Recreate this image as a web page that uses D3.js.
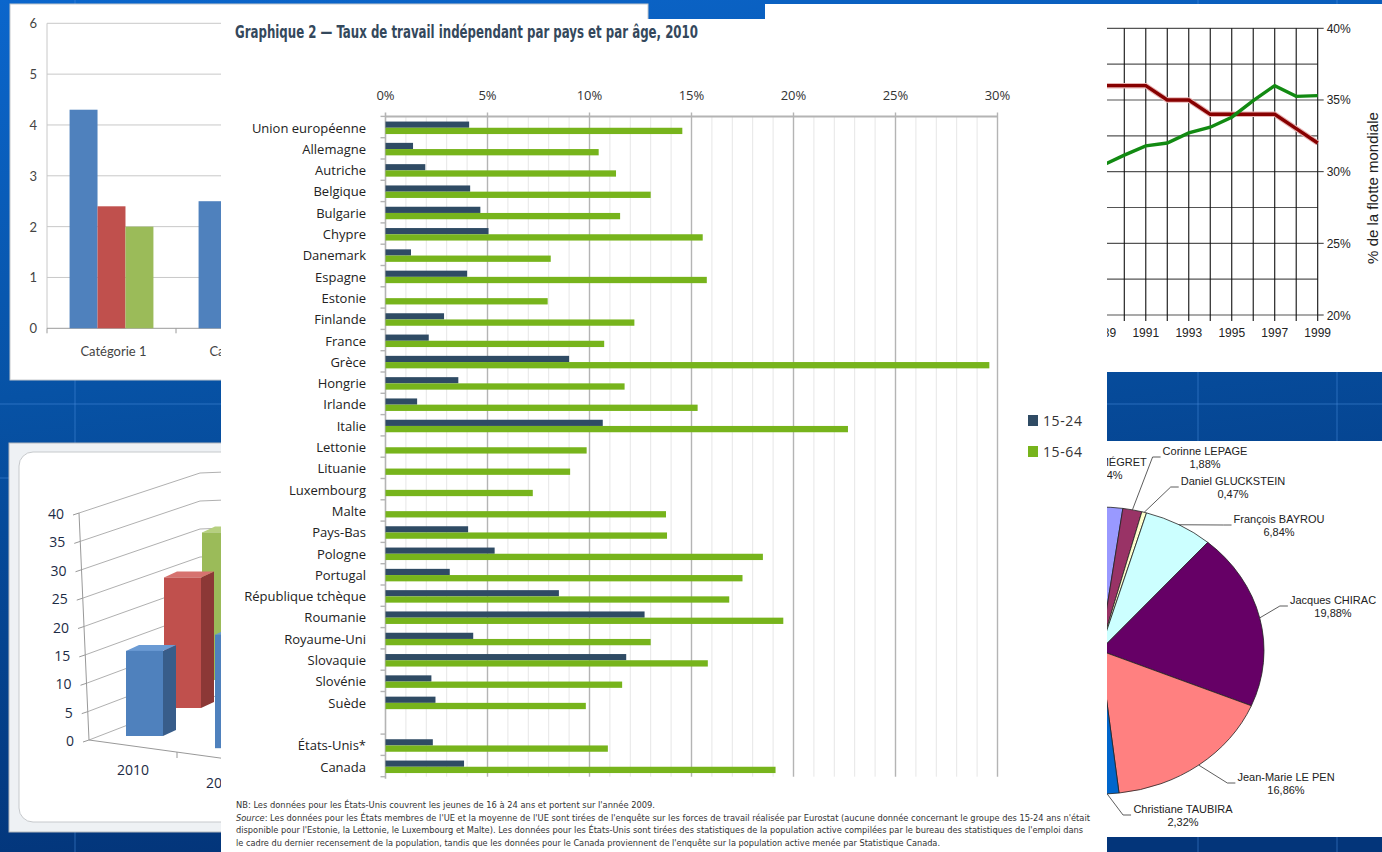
<!DOCTYPE html>
<html>
<head>
<meta charset="utf-8">
<script src="https://cdn.jsdelivr.net/npm/d3@7"></script>
<style>
  body { margin: 0; background: #0650a2; }
  svg { display: block; }
</style>
</head>
<body>
<svg id="chart" width="1382" height="852"></svg>
<script>
// ---- main chart: Graphique 2 ----
const countries = [
  "Union européenne", "Allemagne", "Autriche", "Belgique", "Bulgarie", "Chypre",
  "Danemark", "Espagne", "Estonie", "Finlande", "France", "Grèce", "Hongrie",
  "Irlande", "Italie", "Lettonie", "Lituanie", "Luxembourg", "Malte", "Pays-Bas",
  "Pologne", "Portugal", "République tchèque", "Roumanie", "Royaume-Uni",
  "Slovaquie", "Slovénie", "Suède", "", "États-Unis*", "Canada"
];
const age1524 = [4.1, 1.35, 1.95, 4.15, 4.65, 5.05, 1.25, 4.0, null, 2.87, 2.12, 9.0, 3.57,
  1.55, 10.65, null, null, null, null, 4.05, 5.35, 3.15, 8.5, 12.7, 4.3,
  11.8, 2.25, 2.45, null, 2.32, 3.85];
const age1564 = [14.55, 10.45, 11.3, 13.0, 11.5, 15.55, 8.1, 15.75, 7.95, 12.2, 10.72, 29.6, 11.72,
  15.3, 22.67, 9.86, 9.05, 7.22, 13.75, 13.8, 18.5, 17.5, 16.85, 19.5, 13.0,
  15.8, 11.6, 9.82, null, 10.9, 19.12];
const seriesNames = ["15-24", "15-64"];
const pctTicks = [0, 5, 10, 15, 20, 25, 30];
const footnotes = [
  "NB: Les données pour les États-Unis couvrent les jeunes de 16 à 24 ans et portent sur l'année 2009.",
  ": Les données pour les États membres de l'UE et la moyenne de l'UE sont tirées de l'enquête sur les forces de travail réalisée par Eurostat (aucune donnée concernant le groupe des 15-24 ans n'était",
  "disponible pour l'Estonie, la Lettonie, le Luxembourg et Malte). Les données pour les États-Unis sont tirées des statistiques de la population active compilées par le bureau des statistiques de l'emploi dans",
  "le cadre du dernier recensement de la population, tandis que les données pour le Canada proviennent de l'enquête sur la population active menée par Statistique Canada."
];

// ---- background: Excel column chart (top left) ----
const xlCategories = ["Catégorie 1", "Catégorie 2", "Catégorie 3", "Catégorie 4"];
const xlSeries1 = [4.3, 2.5, 3.5, 4.5];
const xlSeries2 = [2.4, 4.4, 1.8, 2.8];
const xlSeries3 = [2, 2, 3, 5];

// ---- background: 3D column chart (bottom left) ----
const years3d = ["2010", "2011"];
const bars3dA = [15, 20];
const bars3dB = [23, 27];
const bars3dC = [26, 31];

// ---- background: line chart (top right) ----
const fleetYears = [1989, 1990, 1991, 1992, 1993, 1994, 1995, 1996, 1997, 1998, 1999];
const fleetRed = [36, 36, 36, 35, 35, 34, 34, 34, 34, 33, 32];
const fleetGreen = [30.45, 31.15, 31.8, 32.0, 32.7, 33.1, 33.8, 34.95, 36.0, 35.25, 35.3];

// ---- background: pie (bottom right) ----
const pieNames = ["Bruno MÉGRET", "Corinne LEPAGE", "Daniel GLUCKSTEIN", "François BAYROU",
  "Jacques CHIRAC", "Jean-Marie LE PEN", "Christiane TAUBIRA", "Lionel JOSPIN",
  "Arlette LAGUILLER", "Jean-Pierre CHEVÈNEMENT", "Noël MAMÈRE", "Olivier BESANCENOT",
  "Jean SAINT-JOSSE", "Alain MADELIN", "Robert HUE", "Christine BOUTIN"];
const pieShares = [2.34, 1.88, 0.47, 6.84, 19.88, 16.86, 2.32, 16.18, 5.72, 5.33, 5.25, 4.25, 4.23, 3.91, 3.37, 1.19];
const pieColors = ["#9999ff", "#993366", "#ffffcc", "#ccffff", "#660066", "#ff8080", "#0066cc", "#ccccff",
  "#000080", "#ff00ff", "#ffff00", "#00ffff", "#800080", "#800000", "#008080", "#0000ff"];
// where the visible slice labels sit (centre of first line)
const pieLabelAt = [[1107, 462], [1205, 451], [1233, 481], [1279, 519], [1333, 600], [1286, 777], [1183, 809]];

const svg = d3.select("#chart");
const W = 1382, H = 852;

function drawBackground() {
  const defs = svg.append("defs");
  const grad = defs.append("linearGradient").attr("id", "bg")
    .attr("x1", 0).attr("y1", 0).attr("x2", 0.2).attr("y2", 1);
  grad.append("stop").attr("offset", 0).attr("stop-color", "#0b66cc");
  grad.append("stop").attr("offset", 0.45).attr("stop-color", "#0752a5");
  grad.append("stop").attr("offset", 1).attr("stop-color", "#03357a");
  svg.append("rect").attr("width", W).attr("height", H).attr("fill", "url(#bg)");
  // faint template lines
  const deco = svg.append("g").attr("stroke", "#4d8fe0").attr("stroke-opacity", 0.25).attr("stroke-width", 2);
  [75, 1198, 1337].forEach(x => deco.append("line").attr("x1", x).attr("x2", x).attr("y1", 0).attr("y2", H));
  [404, 478].forEach(y => deco.append("line").attr("x1", 0).attr("x2", W).attr("y1", y).attr("y2", y));
}

function drawExcelChart() {
  const g = svg.append("g");
  g.append("rect").attr("x", 10).attr("y", 4).attr("width", 638).attr("height", 376)
    .attr("fill", "#fff").attr("stroke", "#c4c8cc");
  const y = d3.scaleLinear().domain([0, 6]).range([328.3, 23.3]);
  const x = d3.scaleBand().domain(xlCategories).range([47, 563]);
  const inner = d3.scaleBand().domain([0, 1, 2]).range([0, x.bandwidth() * 0.65]);
  g.selectAll(".xlgrid").data(d3.range(1, 7)).join("line")
    .attr("x1", 47).attr("x2", 563).attr("y1", d => y(d)).attr("y2", d => y(d))
    .attr("stroke", "#c8c8c8");
  g.append("line").attr("x1", 47).attr("x2", 47).attr("y1", y(6)).attr("y2", y(0)).attr("stroke", "#c8c8c8");
  g.append("line").attr("x1", 47).attr("x2", 563).attr("y1", y(0)).attr("y2", y(0)).attr("stroke", "#9a9a9a");
  g.selectAll(".xltick").data(xlCategories).join("line")
    .attr("x1", d => x(d)).attr("x2", d => x(d)).attr("y1", y(0)).attr("y2", y(0) + 5).attr("stroke", "#9a9a9a");
  g.selectAll(".xlylab").data(d3.range(0, 7)).join("text")
    .attr("x", 37).attr("y", d => y(d) + 5).attr("text-anchor", "end")
    .attr("font-family", "Lato, sans-serif").attr("font-size", 13).attr("fill", "#444")
    .text(d => d);
  const series = [xlSeries1, xlSeries2, xlSeries3];
  const cols = ["#4f81bd", "#c0504d", "#9bbb59"];
  const off = (x.bandwidth() - inner.range()[1]) / 2;
  series.forEach((vals, s) => {
    g.selectAll(".xlbar" + s).data(xlCategories).join("rect")
      .attr("x", (d, i) => x(d) + off + inner(s))
      .attr("width", inner.bandwidth())
      .attr("y", (d, i) => y(vals[i]))
      .attr("height", (d, i) => y(0) - y(vals[i]))
      .attr("fill", cols[s]);
  });
  g.selectAll(".xlxlab").data(xlCategories).join("text")
    .attr("x", d => x(d) + x.bandwidth() / 2 + 2).attr("y", 356).attr("text-anchor", "middle")
    .attr("font-family", "Lato, sans-serif").attr("font-size", 13).attr("fill", "#444")
    .text(d => d);
}

function draw3DChart() {
  const g = svg.append("g");
  g.append("rect").attr("x", 9).attr("y", 443).attr("width", 420).attr("height", 389)
    .attr("fill", "#eef1f4").attr("stroke", "#b4b8bd");
  g.append("rect").attr("x", 19).attr("y", 452).attr("width", 400).attr("height", 370).attr("rx", 14)
    .attr("fill", "#fff").attr("stroke", "#c6c9cc");
  const ticks = d3.range(0, 41, 5);
  const axisX = d3.scaleLinear().domain([0, 40]).range([89, 79]);
  const axisY = d3.scaleLinear().domain([0, 40]).range([740, 513]);
  const backY = d3.scaleLinear().domain([0, 40]).range([697, 473]);
  const h = d3.scaleLinear().domain([0, 40]).range([0, 227]);
  g.selectAll(".g3").data(ticks).join("path")
    .attr("d", t => `M${axisX(t)},${axisY(t)}L200,${backY(t)}L300,${backY(t) - 4}`)
    .attr("fill", "none").attr("stroke", "#b0b0b0");
  g.append("line").attr("x1", axisX(0)).attr("y1", axisY(0)).attr("x2", axisX(40)).attr("y2", axisY(40)).attr("stroke", "#999");
  g.selectAll(".tk3").data(ticks).join("line")
    .attr("x1", t => axisX(t) - 6).attr("x2", t => axisX(t)).attr("y1", t => axisY(t) + 2).attr("y2", t => axisY(t))
    .attr("stroke", "#999");
  g.append("line").attr("x1", 89).attr("y1", 740).attr("x2", 300).attr("y2", 769).attr("stroke", "#999");
  g.append("line").attr("x1", 177).attr("y1", 752).attr("x2", 177).attr("y2", 758).attr("stroke", "#999");
  g.selectAll(".lab3").data(ticks).join("text")
    .attr("x", t => axisX(t) - 15).attr("y", t => axisY(t) + 6).attr("text-anchor", "end")
    .attr("font-family", "'Open Sans', sans-serif").attr("font-size", 14).attr("fill", "#1c2b45")
    .text(t => t);
  const px = d3.scalePoint().domain(years3d).range([126, 215]);
  const rows = [
    { vals: bars3dC, k: 2, c: ["#9bbb59", "#71893f", "#b6d07f"] },
    { vals: bars3dB, k: 1, c: ["#c0504d", "#8c3836", "#d6726f"] },
    { vals: bars3dA, k: 0, c: ["#4f81bd", "#385d8a", "#6b9bd4"] }
  ];
  const bw = 37, sdx = 13, sdy = -6;
  rows.forEach(r => {
    years3d.forEach((yr, i) => {
      const x0 = px(yr) + 38 * r.k;
      const yb = 736 + (px(yr) - 126) * 0.137 - 28 * r.k;
      const top = yb - h(r.vals[i]);
      g.append("path").attr("d", `M${x0 + bw},${top}L${x0 + bw + sdx},${top + sdy}L${x0 + bw + sdx},${yb + sdy}L${x0 + bw},${yb}Z`).attr("fill", r.c[1]);
      g.append("path").attr("d", `M${x0},${top}L${x0 + sdx},${top + sdy}L${x0 + bw + sdx},${top + sdy}L${x0 + bw},${top}Z`).attr("fill", r.c[2]);
      g.append("rect").attr("x", x0).attr("y", top).attr("width", bw).attr("height", yb - top).attr("fill", r.c[0]);
    });
  });
  g.selectAll(".cat3").data(years3d).join("text")
    .attr("x", d => px(d) + 7).attr("y", d => 775 + (px(d) - 126) * 0.15)
    .attr("text-anchor", "middle")
    .attr("font-family", "'Open Sans', sans-serif").attr("font-size", 14).attr("fill", "#1c2b45")
    .text(d => d);
}

function drawFleetChart() {
  const g = svg.append("g");
  g.append("rect").attr("x", 765).attr("y", 4).attr("width", 617).attr("height", 368).attr("fill", "#fff");
  const x = d3.scaleLinear().domain([1989, 1999]).range([1102.8, 1317.7]);
  const y = d3.scaleLinear().domain([20, 40]).range([315, 28.3]);
  g.selectAll(".hg").data(d3.range(20, 40.01, 2.5)).join("line")
    .attr("x1", 765).attr("x2", x(1999)).attr("y1", d => y(d)).attr("y2", d => y(d))
    .attr("stroke", "#555").attr("stroke-width", 1.2);
  g.selectAll(".vg").data(fleetYears).join("line")
    .attr("x1", d => x(d)).attr("x2", d => x(d)).attr("y1", y(40)).attr("y2", y(20) + 6)
    .attr("stroke", "#111").attr("stroke-width", 1.1);
  g.selectAll(".rt").data([20, 25, 30, 35, 40]).join("line")
    .attr("x1", x(1999)).attr("x2", x(1999) + 6).attr("y1", d => y(d)).attr("y2", d => y(d))
    .attr("stroke", "#333");
  g.selectAll(".rl").data([20, 25, 30, 35, 40]).join("text")
    .attr("x", x(1999) + 9).attr("y", d => y(d) + 4.5)
    .attr("font-family", "'Liberation Sans', Arial, sans-serif").attr("font-size", 12).attr("fill", "#222")
    .text(d => d + "%");
  g.selectAll(".yl").data(fleetYears.filter(d => d % 2 === 1)).join("text")
    .attr("x", d => x(d)).attr("y", 337).attr("text-anchor", "middle")
    .attr("font-family", "'Liberation Sans', Arial, sans-serif").attr("font-size", 12).attr("fill", "#222")
    .text(d => d);
  const line = d3.line().x((d, i) => x(fleetYears[i])).y(d => y(d));
  g.append("path").datum(fleetRed).attr("d", line).attr("fill", "none")
    .attr("stroke", "#e7b3b3").attr("stroke-width", 5.5);
  g.append("path").datum(fleetRed).attr("d", line).attr("fill", "none")
    .attr("stroke", "#870000").attr("stroke-width", 3.4);
  g.append("path").datum(fleetGreen).attr("d", line).attr("fill", "none")
    .attr("stroke", "#128a12").attr("stroke-width", 3.4);
  g.append("text").attr("transform", "translate(1378,188) rotate(-90)").attr("text-anchor", "middle")
    .attr("font-family", "'Liberation Sans', Arial, sans-serif").attr("font-size", 15).attr("fill", "#222")
    .text("% de la flotte mondiale");
}

function drawPie() {
  const g = svg.append("g");
  g.append("rect").attr("x", 765).attr("y", 441).attr("width", 617).attr("height", 396).attr("fill", "#fff");
  const cx = 1100, cy = 650.5, rx = 164, ry = 143.5;
  const a0 = -0.4 * Math.PI / 180;
  const pie = d3.pie().sort(null).startAngle(a0).endAngle(a0 + 2 * Math.PI);
  const arcs = pie(pieShares);
  const arc = d3.arc().innerRadius(0).outerRadius(ry);
  const pg = g.append("g").attr("transform", `translate(${cx},${cy}) scale(${rx / ry},1)`);
  pg.selectAll("path").data(arcs).join("path")
    .attr("d", arc).attr("fill", (d, i) => pieColors[i])
    .attr("stroke", "#222").attr("stroke-width", 0.8).attr("vector-effect", "non-scaling-stroke");
  const pt = a => [cx + rx * Math.sin(a), cy - ry * Math.cos(a)];
  pieLabelAt.forEach((pos, i) => {
    const t = g.append("text").attr("text-anchor", "middle")
      .attr("font-family", "'Liberation Sans', Arial, sans-serif").attr("font-size", 11).attr("fill", "#222");
    t.append("tspan").attr("x", pos[0]).attr("y", pos[1] + 4).text(pieNames[i]);
    t.append("tspan").attr("x", pos[0]).attr("y", pos[1] + 17).text(pieShares[i].toFixed(2).replace(".", ",") + "%");
    if (i === 0) return;
    const wLab = t.node().getBBox().width;
    const left = pos[0] - wLab / 2;
    const mid = (arcs[i].startAngle + arcs[i].endAngle) / 2;
    const s = pt(mid);
    const ly = pos[1] + 6;
    g.append("path").attr("d", `M${s[0]},${s[1]}L${left - 10},${ly}L${left - 2},${ly}`)
      .attr("fill", "none").attr("stroke", "#333").attr("stroke-width", 0.8);
  });
}

function drawMainChart() {
  const g = svg.append("g");
  g.append("rect").attr("x", 221).attr("y", 19).attr("width", 886).attr("height", 833).attr("fill", "#fff");

  g.append("text").attr("x", 235).attr("y", 38)
    .attr("font-family", "'Liberation Sans Narrow', 'DejaVu Sans Condensed', sans-serif")
    .attr("font-weight", "bold").attr("font-size", 17.5).attr("fill", "#34485c")
    .attr("textLength", 463).attr("lengthAdjust", "spacingAndGlyphs")
    .text("Graphique 2 — Taux de travail indépendant par pays et par âge, 2010");

  const x = d3.scaleLinear().domain([0, 30]).range([385.5, 997.5]);
  const y = d3.scaleBand().domain(countries).range([116.4, 776.7]);
  const top = y.range()[0], bottom = y.range()[1];

  // minor and major gridlines
  g.selectAll(".minor").data(d3.range(1, 30).filter(d => d % 5 !== 0)).join("line")
    .attr("x1", d => x(d)).attr("x2", d => x(d)).attr("y1", top).attr("y2", bottom)
    .attr("stroke", "#e6e6e6").attr("stroke-width", 1);
  g.selectAll(".major").data(pctTicks.slice(1)).join("line")
    .attr("x1", d => x(d)).attr("x2", d => x(d)).attr("y1", top - 4).attr("y2", bottom)
    .attr("stroke", "#b4b4b4").attr("stroke-width", 1.4);
  g.append("line").attr("x1", x(0)).attr("x2", x(30)).attr("y1", top).attr("y2", top)
    .attr("stroke", "#b4b4b4").attr("stroke-width", 2);
  g.append("line").attr("x1", x(0)).attr("x2", x(0)).attr("y1", top - 4).attr("y2", bottom + 2)
    .attr("stroke", "#b4b4b4").attr("stroke-width", 1.6);

  // category ticks on the left axis
  const tickPos = countries.filter(c => c !== "").map(c => y(c)).concat([bottom]);
  g.selectAll(".ctick").data(tickPos).join("line")
    .attr("x1", x(0) - 5).attr("x2", x(0)).attr("y1", d => d).attr("y2", d => d)
    .attr("stroke", "#b4b4b4").attr("stroke-width", 1.4);

  g.selectAll(".xlab").data(pctTicks).join("text")
    .attr("x", d => x(d)).attr("y", 100).attr("text-anchor", "middle")
    .attr("font-family", "'Open Sans', sans-serif").attr("font-size", 13).attr("fill", "#333")
    .text(d => d + "%");

  const rows = countries.map((c, i) => ({ c, a: age1524[i], b: age1564[i] }));
  g.selectAll(".bar1524").data(rows.filter(d => d.a != null)).join("rect")
    .attr("x", x(0)).attr("width", d => x(d.a) - x(0))
    .attr("y", d => y(d.c) + y.bandwidth() / 2 - 5.5).attr("height", 6.2)
    .attr("fill", "#2f4b64");
  g.selectAll(".bar1564").data(rows.filter(d => d.b != null)).join("rect")
    .attr("x", x(0)).attr("width", d => x(d.b) - x(0))
    .attr("y", d => y(d.c) + y.bandwidth() / 2 + 0.7).attr("height", 6.3)
    .attr("fill", "#77b41c");

  g.selectAll(".ylab").data(countries.filter(c => c !== "")).join("text")
    .attr("x", 366).attr("y", d => y(d) + y.bandwidth() / 2 + 5.5).attr("text-anchor", "end")
    .attr("font-family", "'Open Sans', sans-serif").attr("font-size", 13).attr("fill", "#222")
    .text(d => d);

  // legend
  const legColors = ["#2f4b64", "#77b41c"];
  const leg = g.selectAll(".leg").data(seriesNames).join("g")
    .attr("transform", (d, i) => `translate(1028,${415 + i * 31})`);
  leg.append("rect").attr("width", 10).attr("height", 11).attr("fill", (d, i) => legColors[i]);
  leg.append("text").attr("x", 15).attr("y", 10.5)
    .attr("font-family", "'Open Sans', sans-serif").attr("font-size", 14).attr("fill", "#333")
    .attr("letter-spacing", 0.6)
    .text(d => d);

  // notes
  const noteW = [419, 854, 847, 704];
  footnotes.forEach((line, i) => {
    const t = g.append("text").attr("x", 236).attr("y", 808 + i * 12.6)
      .attr("font-family", "'Liberation Sans Narrow', 'DejaVu Sans Condensed', sans-serif")
      .attr("font-size", 9.5).attr("fill", "#333")
      .attr("textLength", noteW[i]).attr("lengthAdjust", "spacingAndGlyphs");
    if (i === 1) t.append("tspan").attr("font-style", "italic").text("Source");
    t.append("tspan").text(line);
  });
}

drawBackground();
drawExcelChart();
draw3DChart();
drawFleetChart();
drawPie();
drawMainChart();
</script>
</body>
</html>
